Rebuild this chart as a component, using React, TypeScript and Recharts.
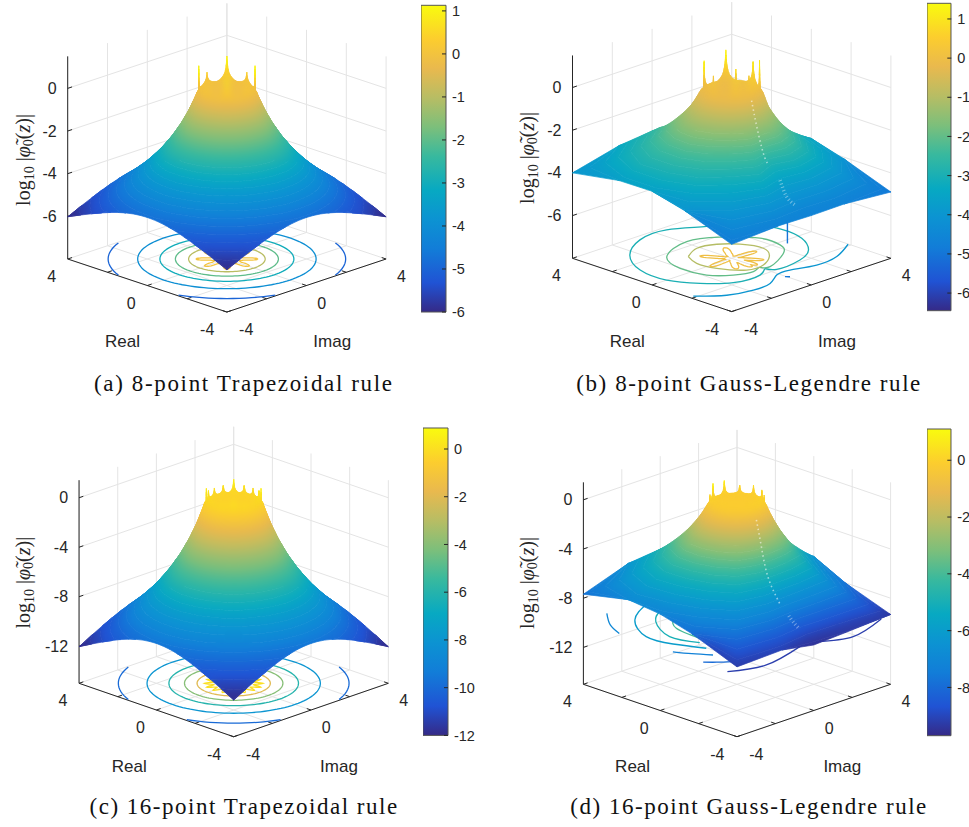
import { ScatterChart, Scatter, XAxis, YAxis, BarChart, Bar } from "recharts";

// ─── Colour map ───
const PARULA = ["#352a87", "#2053d4", "#127dd8", "#0c93d2", "#07a9c2", "#38b99e", "#7cbf7b", "#b7bd64", "#e9b94e", "#fccd2e", "#f9fb0e"];
const PARULA_POS = [0, 0.095, 0.206, 0.302, 0.397, 0.508, 0.603, 0.698, 0.794, 0.889, 1];

// ─── Surface data: radius of each height level, per direction ───
const levelsA = [-0.25, -0.5, -0.75, -1, -1.25, -1.5, -1.75, -2, -2.25, -2.5, -2.75, -3, -3.25, -3.5, -3.75, -4, -4.25, -4.5, -4.75, -5, -5.25, -5.5, -5.75, -6, -6.25];
const radiiA = [[1.07, 1.15, 1.24, 1.33, 1.43, 1.54, 1.65, 1.78, 1.91, 2.05, 2.21, 2.37, 2.55, 2.74, 2.94, 3.16, 3.4, 3.65, 3.93, 4.22, 4.53, 4.87, 5.24, 5.62, 6.05]];

const levelsC = [-0.5, -1, -1.5, -2, -2.5, -3, -3.5, -4, -4.5, -5, -5.5, -6, -6.5, -7, -7.5, -8, -8.5, -9, -9.5, -10, -10.5, -11, -11.5, -12, -12.5];
const radiiC = [[1.07, 1.15, 1.24, 1.33, 1.43, 1.54, 1.65, 1.78, 1.91, 2.05, 2.21, 2.37, 2.55, 2.74, 2.94, 3.16, 3.4, 3.65, 3.93, 4.22, 4.53, 4.87, 5.24, 5.62, 6.05]];

const levelsB = [-0.25, -0.5, -0.75, -1, -1.25, -1.5, -1.75, -2, -2.25, -2.5, -2.75, -3, -3.25, -3.5, -3.75, -4, -4.25, -4.5, -4.75, -5];
// one row per direction, 0 deg to 337.5 deg in steps of 22.5 deg
const radiiB = [
  [1.14, 1.23, 1.34, 1.45, 1.61, 1.79, 1.98, 2.2, 2.49, 2.81, 3.18, 3.6, 3.95, 4.33],
  [1.13, 1.22, 1.32, 1.42, 1.57, 1.75, 1.94, 2.15, 2.4, 2.68, 3.0, 3.35, 3.68, 4.05, 4.46],
  [1.13, 1.21, 1.3, 1.4, 1.54, 1.69, 1.86, 2.05, 2.27, 2.52, 2.8, 3.1, 3.42, 3.78, 4.17, 4.6, 5.0, 5.43, 5.89],
  [1.13, 1.21, 1.3, 1.4, 1.54, 1.69, 1.86, 2.05, 2.29, 2.56, 2.86, 3.2, 3.5, 3.84, 4.2, 4.6],
  [1.12, 1.19, 1.28, 1.36, 1.49, 1.63, 1.78, 1.95, 2.17, 2.42, 2.69, 3.0, 3.36, 3.76, 4.2],
  [1.12, 1.19, 1.27, 1.35, 1.47, 1.6, 1.74, 1.9, 2.1, 2.33, 2.58, 2.85, 3.14, 3.46, 3.81, 4.2, 4.59],
  [1.12, 1.19, 1.26, 1.34, 1.46, 1.58, 1.72, 1.87, 2.06, 2.26, 2.48, 2.73, 2.98, 3.26, 3.57, 3.9, 4.33, 4.8, 5.32, 5.9],
  [1.11, 1.17, 1.23, 1.3, 1.4, 1.51, 1.62, 1.75, 1.89, 2.05, 2.22, 2.4, 2.6, 2.81, 3.05, 3.3, 3.62, 3.98, 4.37],
  [1.1, 1.15, 1.2, 1.25, 1.33, 1.42, 1.5, 1.6, 1.69, 1.79, 1.89, 2.0, 2.21, 2.45, 2.71, 3.0, 3.3, 3.63, 4.0, 4.4],
  [1.11, 1.17, 1.23, 1.3, 1.4, 1.51, 1.62, 1.75, 1.93, 2.13, 2.36, 2.6, 2.8, 3.02, 3.25, 3.5, 3.77, 4.06, 4.37],
  [1.11, 1.18, 1.25, 1.32, 1.42, 1.53, 1.65, 1.78, 1.97, 2.18, 2.41, 2.67, 2.95, 3.27, 3.62, 4.0, 4.43, 4.9, 5.42, 6.0],
  [1.12, 1.19, 1.28, 1.36, 1.48, 1.61, 1.75, 1.9, 2.13, 2.39, 2.68, 3.0, 3.28, 3.59, 3.93, 4.3, 4.77],
  [1.13, 1.22, 1.32, 1.42, 1.57, 1.73, 1.9, 2.1, 2.33, 2.59, 2.88, 3.2, 3.5, 3.84, 4.2],
  [1.15, 1.25, 1.37, 1.5, 1.65, 1.82, 2.0, 2.2, 2.47, 2.77, 3.12, 3.5, 3.81, 4.14, 4.51],
  [1.16, 1.27, 1.4, 1.54, 1.71, 1.9, 2.11, 2.34, 2.61, 2.9, 3.23, 3.6, 4.03, 4.51, 5.05, 5.66, 6.3],
  [1.15, 1.25, 1.37, 1.5, 1.67, 1.86, 2.07, 2.3, 2.57, 2.88, 3.22, 3.6, 3.99, 4.41],
];

const levelsD = [-0.5, -1, -1.5, -2, -2.5, -3, -3.5, -4, -4.5, -5, -5.5, -6, -6.5, -7, -7.5, -8, -8.5, -9, -9.5, -10];
const radiiD = [
  [1.12, 1.25, 1.4, 1.57, 1.76, 1.97, 2.2, 2.47, 2.76, 3.09, 3.46, 3.87, 4.34],
  [1.12, 1.25, 1.4, 1.56, 1.75, 1.96, 2.19, 2.45, 2.74, 3.06, 3.42, 3.83, 4.28, 4.79],
  [1.12, 1.25, 1.39, 1.55, 1.73, 1.93, 2.15, 2.4, 2.68, 2.99, 3.34, 3.73, 4.16, 4.64, 5.18, 5.78],
  [1.11, 1.24, 1.38, 1.53, 1.7, 1.9, 2.11, 2.35, 2.61, 2.9, 3.23, 3.59, 4.0, 4.44],
  [1.11, 1.23, 1.36, 1.51, 1.67, 1.85, 2.05, 2.28, 2.52, 2.79, 3.1, 3.43, 3.8, 4.22],
  [1.1, 1.2, 1.32, 1.44, 1.58, 1.73, 1.9, 2.08, 2.28, 2.5, 2.73, 2.99, 3.28, 3.59, 3.94, 4.31, 4.73],
  [1.1, 1.2, 1.32, 1.45, 1.59, 1.75, 1.92, 2.1, 2.31, 2.53, 2.78, 3.05, 3.35, 3.67, 4.03, 4.42, 4.85, 5.32, 5.84],
  [1.08, 1.17, 1.26, 1.36, 1.47, 1.58, 1.71, 1.85, 2.0, 2.15, 2.33, 2.51, 2.71, 2.93, 3.16, 3.41, 3.69, 3.98, 4.3, 4.64],
  [1.07, 1.15, 1.24, 1.33, 1.43, 1.54, 1.65, 1.77, 1.91, 2.05, 2.2, 2.36, 2.54, 2.73, 2.93, 3.15, 3.38, 3.63, 3.9, 4.19],
  [1.08, 1.17, 1.27, 1.38, 1.49, 1.61, 1.75, 1.89, 2.05, 2.22, 2.4, 2.6, 2.82, 3.05, 3.3, 3.58, 3.87, 4.19, 4.54],
  [1.1, 1.2, 1.32, 1.45, 1.59, 1.75, 1.92, 2.1, 2.31, 2.53, 2.78, 3.05, 3.35, 3.67, 4.03, 4.42, 4.85, 5.32, 5.84],
  [1.1, 1.2, 1.32, 1.45, 1.59, 1.75, 1.92, 2.1, 2.31, 2.53, 2.78, 3.05, 3.35, 3.67, 4.03, 4.42],
  [1.1, 1.21, 1.34, 1.47, 1.62, 1.79, 1.97, 2.17, 2.39, 2.63, 2.9, 3.19, 3.52, 3.87, 4.27],
  [1.11, 1.24, 1.38, 1.53, 1.7, 1.9, 2.11, 2.35, 2.61, 2.9, 3.23, 3.59, 4.0, 4.44],
  [1.12, 1.25, 1.4, 1.57, 1.76, 1.97, 2.2, 2.47, 2.76, 3.09, 3.46, 3.87, 4.34, 4.85, 5.43, 6.08],
  [1.12, 1.26, 1.41, 1.58, 1.77, 1.98, 2.22, 2.49, 2.79, 3.13, 3.51, 3.93, 4.41],
];

// ─── Poles on the unit circle: angle and spike height ───
const polesA = [0, 45, 90, 135, 180, 225, 270, 315];
const tipsA = [0.45, 1.07, 0.45, 1.06, 0.45, 1.0, 0.45, 1.06];
const polesB = [33, 94.5, 143.5, 172.8, 187.2, 216.5, 265.5, 327];
const tipsB = [1.33, 0.93, 1.36, 0.9, 0.9, 1.3, 0.88, 1.16];
const polesC = [0, 22.5, 45, 67.5, 90, 112.5, 135, 157.5, 180, 202.5, 225, 247.5, 270, 292.5, 315, 337.5];
const tipsC = [0.25, 0.3, 0.73, 0.3, 0.25, 0.3, 0.76, 0.3, 0.25, 0.3, 0.6, 0.3, 0.25, 0.3, 0.76, 0.3];
const polesD = [17.1, 50.7, 82.4, 111.2, 136, 155.8, 170, 178.1, 181.9, 190, 204.2, 224, 248.8, 277.6, 309.3, 342.9];
const tipsD = [0.9, 0.45, 0.6, 0.5, 0.4, 0.3, 0.3, 0.3, 0.3, 0.3, 0.3, 0.3, 0.4, 0.4, 0.5, 0.98];
const spikeOffset = [0, 1.5, 4, 8, 14, 22];
const spikeRise = [1, 0.6, 0.36, 0.2, 0.08, 0];

// ─── Floor contours ───
const ringLevelsA = [-5, -4, -3, -2, -1];
const ringRadiiA = [4.22, 3.17, 2.38, 1.83, 1.36];
const ringLevelsC = [-10, -8, -6, -4, -2];
const ringRadiiC = [4.22, 3.17, 2.37, 1.8, 1.34];
const petalOffsetA = [0, 3, 7, 12, 22.5];
const petalRadiusA = [1.09, 1.07, 0.95, 0.6, 0.45];
const petalRadiusB = [1.15, 1.12, 0.95, 0.55, 0.25];
const petalOffsetC = [0, 2, 5, 8, 11.25];
const petalRadiusC = [1.07, 1.03, 0.9, 0.78, 0.72];

const contoursB = [
  { level: -3, closed: true, re: [1.51, 2.55, 3.02, 3.77, 3.69, 2.81, 1.42, 0, -1.09, -1.87, -1.97, -1.62, -1.96, -1.84, -1.3, -0.25, 0.84], im: [3.27, 2.63, 1.76, 0.5, -0.92, -2.31, -3.18, -3.27, -2.68, -1.79, -0.55, 0.05, 0.3, 1.59, 2.56, 3.27, 3.44] },
  { level: -2, closed: true, re: [1.88, 2.39, 1.76, 0.54, -0.63, -1.3, -1.55, -1.38, -1.59, -0.92, -0.21, 0.8], im: [1.29, 0.13, -1.5, -2.05, -1.89, -1.22, -0.46, 0.02, 0.34, 1.68, 2.22, 2.22] },
  { level: -1, closed: true, re: [1.22, 1.63, 1.43, 0.85, -0.04, -0.82, -1.3, -1.26, -0.38, 0.5], im: [-0.96, -0.12, 0.68, 1.27, 1.55, 1.07, 0.29, -0.51, -1.13, -1.26] },
  { level: -4, closed: false, re: [-1.88, -2.65, -2.94, -2.85, -2.39, -2.35, -2.64, -2.51, -1.87], im: [-3.81, -2.9, -1.85, -0.92, -0.13, 0.58, 1.63, 2.77, 3.98] },
  { level: -5, closed: false, re: [-2.72, -2.85], im: [-0.04, 0.08] },
];
const contoursD = [
  { level: -7, closed: false, re: [3.9, 2.92, 2.03], im: [-2.88, -3.68, -4.1] },
  { level: -6, closed: false, re: [3.56, 2.66, 1.09, -0.17, -1.36], im: [-1.16, -2.66, -3.64, -3.5, -2.96] },
  { level: -5, closed: false, re: [2.65, 1.99, 0.48, -0.76], im: [-1.38, -2.24, -3.03, -2.7] },
  { level: -4, closed: false, re: [1.79, 0.95, -0.43], im: [-1.54, -2.21, -2.37] },
  { level: -7.3, closed: false, re: [-0.76, -1.4, -2.05], im: [-4.1, -3.75, -3.3] },
  { level: -8, closed: false, re: [-2.34, -2.7, -3.07], im: [-4.1, -3.75, -3.28] },
  { level: -9.2, closed: false, re: [-3.7, -4.2, -3.67], im: [-4.2, -2.67, -0.4] },
  { level: -9.2, closed: false, re: [-3.72, -4.3, -3.68], im: [0.41, 1.75, 3.83] },
];

// ─── Crack in the Gauss-Legendre surfaces, an upper thin part and a lower wide part ───
const crackUpperReB = [-1.0, -1.26, -1.59, -1.81];
const crackUpperZB = [-0.3, -1.44, -2.59, -3.0];
const crackLowerReB = [-2.43, -2.76, -3.18];
const crackLowerZB = [-3.58, -4.25, -4.51];
const crackUpperReD = [-1.01, -1.27, -1.61, -2.22];
const crackUpperZD = [-1.1, -3.14, -5.4, -7.24];
const crackLowerReD = [-2.7, -2.92, -3.26];
const crackLowerZD = [-8.0, -8.36, -8.79];
const zeroSpikeB = [-5.46, -6.43];

// ─── Axis ticks ───
const planTicks = [-4, -2, 0, 2, 4];
const labelledPlanTicks = [-4, 0, 4];
const zTicksAB = [0, -2, -4, -6];
const zTicksCD = [0, -4, -8, -12];
const barTicksA = [1, 0, -1, -2, -3, -4, -5, -6];
const barTicksB = [1, 0, -1, -2, -3, -4, -5, -6];
const barTicksC = [0, -2, -4, -6, -8, -10, -12];
const barTicksD = [0, -2, -4, -6, -8];

const panels = [
  {
    id: "a", caption: "(a) 8-point Trapezoidal rule", captionX: 243, captionY: 391, captionW: 298, blur: 3, spikeScale: 1,
    cx: 226.9, fy: 259, kx: 19.9, ky: 6.63, kz: 21.33, zFloor: -8, zTop: 1.5, zPlane: -8, zTicks: zTicksAB,
    levels: levelsA, radii: radiiA, dirs: 72, rimZ: -0.1, rimLevels: [0.1, 0.3, 0.5, 0.7, 0.9, 1.1], poles: polesA, tips: tipsA,
    cmin: -6, cmax: 1.13, barX: 421, barW: 25, barTop: 5.3, barBottom: 312, barTicks: barTicksA, labelX: 24, labelY: 160,
    crackUpper: null, crackLower: null,
  },
  {
    id: "b", caption: "(b) 8-point Gauss-Legendre rule", captionX: 748.3, captionY: 391, captionW: 344, blur: 4.5, spikeScale: 0.9,
    cx: 731.7, fy: 258.3, kx: 19.9, ky: 6.66, kz: 21.35, zFloor: -8, zTop: 1.5, zPlane: -8, zTicks: zTicksAB,
    levels: levelsB, radii: radiiB, dirs: 16, rimZ: -0.1, rimLevels: [0.1, 0.3, 0.5, 0.7, 0.9, 1.1, 1.35], poles: polesB, tips: tipsB,
    cmin: -6.45, cmax: 1.4, barX: 926.7, barW: 24.3, barTop: 3.3, barBottom: 310.7, barTicks: barTicksB, labelX: 528.3, labelY: 158,
    crackUpper: [crackUpperReB, crackUpperZB], crackLower: [crackLowerReB, crackLowerZB],
  },
  {
    id: "c", caption: "(c) 16-point Trapezoidal rule", captionX: 243.3, captionY: 814, captionW: 307.7, blur: 3, spikeScale: 0.55,
    cx: 233.7, fy: 683.3, kx: 19.33, ky: 6.68, kz: 12.37, zFloor: -15, zTop: 1.42, zPlane: -15, zTicks: zTicksCD,
    levels: levelsC, radii: radiiC, dirs: 72, rimZ: -0.35, rimLevels: [-0.15, 0.05, 0.25, 0.45, 0.76], poles: polesC, tips: tipsC,
    cmin: -12, cmax: 0.88, barX: 423.3, barW: 25, barTop: 428.3, barBottom: 735.7, barTicks: barTicksC, labelX: 24.3, labelY: 582.7,
    crackUpper: null, crackLower: null,
  },
  {
    id: "d", caption: "(d) 16-point Gauss-Legendre rule", captionX: 748.3, captionY: 814, captionW: 356, blur: 4.5, spikeScale: 0.5,
    cx: 737, fy: 684.3, kx: 19.2, ky: 6.55, kz: 12.3, zFloor: -15, zTop: 1.42, zPlane: -9.77, zTicks: zTicksCD,
    levels: levelsD, radii: radiiD, dirs: 16, rimZ: -0.2, rimLevels: [0, 0.2, 0.4, 0.6, 0.8, 0.98], poles: polesD, tips: tipsD,
    cmin: -9.7, cmax: 1.1, barX: 926.7, barW: 24.3, barTop: 429.3, barBottom: 736, barTicks: barTicksD, labelX: 528.3, labelY: 583,
    crackUpper: [crackUpperReD, crackUpperZD], crackLower: [crackLowerReD, crackLowerZD],
  },
];

const INK = "#262626";
const SANS = "'Liberation Sans', Arial, sans-serif";
const SERIF = "'Liberation Serif', serif";
const NO_MARGIN = { top: 0, right: 0, bottom: 0, left: 0 };
const LAYER = { position: "absolute", left: 0, top: 0 } as const;

function hex(c: string) {
  return [1, 3, 5].map((i) => parseInt(c.slice(i, i + 2), 16));
}

function parula(t: number) {
  const v = Math.min(1, Math.max(0, t));
  let i = 0;
  while (i < PARULA_POS.length - 2 && v > PARULA_POS[i + 1]) i++;
  const f = (v - PARULA_POS[i]) / (PARULA_POS[i + 1] - PARULA_POS[i]);
  const a = hex(PARULA[i]);
  const b = hex(PARULA[i + 1]);
  return `rgb(${a.map((x, k) => Math.round(x + (b[k] - x) * f)).join(",")})`;
}

function lookup(xs: number[], ys: number[], x: number) {
  if (x >= xs[xs.length - 1]) return ys[ys.length - 1];
  let i = 0;
  while (x > xs[i + 1]) i++;
  return ys[i] + ((ys[i + 1] - ys[i]) * (x - xs[i])) / (xs[i + 1] - xs[i]);
}

// 3D to page coordinates, the chart's axes then scale these
function project(p: any, re: number, im: number, z: number) {
  return {
    x: p.cx + (im - re) * p.kx,
    y: p.fy - (re + im) * p.ky - (z - p.zFloor) * p.kz,
  };
}

function squareRho(deg: number) {
  const t = (deg * Math.PI) / 180;
  return 4 / Math.max(Math.abs(Math.cos(t)), Math.abs(Math.sin(t)));
}

function boundaryZ(row: number[], levels: number[], rho: number) {
  let k = 0;
  while (k < row.length - 2 && row[k + 1] < rho) k++;
  const f = (rho - row[k]) / (row[k + 1] - row[k]);
  return levels[k] + (levels[k + 1] - levels[k]) * f;
}

// one closed height level on the surface, cut off at the square edge
function levelLoop(p: any, i: number) {
  const pts = [];
  for (let j = 0; j < p.dirs; j++) {
    const deg = (j * 360) / p.dirs;
    const row = p.radii.length === 1 ? p.radii[0] : p.radii[j];
    const rho = squareRho(deg);
    let r = i < row.length ? row[i] : rho + 1;
    let z = i < 0 ? p.rimZ : p.levels[Math.min(i, p.levels.length - 1)];
    if (i < 0) r = 1;
    if (r > rho) {
      r = rho;
      z = boundaryZ(row, p.levels, rho);
    }
    const t = (deg * Math.PI) / 180;
    pts.push(project(p, r * Math.cos(t), r * Math.sin(t), z));
  }
  return pts;
}

function rimAngles(p: any) {
  const out = [...p.poles];
  for (let d = 0; d < 360; d += 1.5) out.push(d);
  return out.sort((a, b) => a - b);
}

function rimHeight(p: any, deg: number) {
  let best = p.rimZ;
  p.poles.forEach((pole: number, k: number) => {
    const gap = Math.abs(((deg - pole + 540) % 360) - 180) / p.spikeScale;
    if (gap < 22) best = Math.max(best, p.rimZ + (p.tips[k] - p.rimZ) * lookup(spikeOffset, spikeRise, gap));
  });
  return best;
}

function rimLoop(p: any, cap: number) {
  return rimAngles(p).map((deg) => {
    const t = (deg * Math.PI) / 180;
    return project(p, Math.cos(t), Math.sin(t), Math.min(rimHeight(p, deg), cap));
  });
}

function surfaceBands(p: any) {
  const bands = [];
  const step = p.levels[0] - p.levels[1];
  const n = p.levels.length;
  for (let i = n; i >= 0; i--) {
    const outerZ = i < n ? p.levels[i] : p.levels[n - 1] - step;
    const innerZ = i > 0 ? p.levels[i - 1] : p.rimZ;
    bands.push({ z: (outerZ + innerZ) / 2, points: [...levelLoop(p, i), ...levelLoop(p, i - 1)] });
  }
  const angles = rimAngles(p);
  const centre = project(p, 0, 0, p.rimZ);
  bands.push({ z: p.rimZ, points: [...rimLoop(p, p.rimZ), ...angles.map(() => centre)] });
  let prev = p.rimZ;
  p.rimLevels.forEach((cap: number) => {
    bands.push({ z: (cap + prev) / 2, points: [...rimLoop(p, cap), ...rimLoop(p, prev)] });
    prev = cap;
  });
  return bands;
}

// draws a band from the scaled points, each quad wound the same way so folds stay filled
function quadStrip(color: string) {
  return (props: any) => {
    const pts = props.points;
    const n = pts.length / 2;
    let d = "";
    for (let i = 0; i < n; i++) {
      const a = pts[i];
      const b = pts[(i + 1) % n];
      const c = pts[n + ((i + 1) % n)];
      const e = pts[n + i];
      const area = (c.x - a.x) * (e.y - b.y) - (e.x - b.x) * (c.y - a.y);
      if (Math.abs(area) < 0.001) continue;
      const q = area > 0 ? [a, b, c, e] : [e, c, b, a];
      d += `M${q.map((v: any) => `${v.x.toFixed(2)} ${v.y.toFixed(2)}`).join("L")}Z`;
    }
    return <path d={d} fill={color} stroke={color} strokeWidth={0.7} fillRule="nonzero" />;
  };
}

function segments(color: string, width: number) {
  return (props: any) => {
    const pts = props.points;
    let d = "";
    for (let i = 0; i + 1 < pts.length; i += 2) d += `M${pts[i].x} ${pts[i].y}L${pts[i + 1].x} ${pts[i + 1].y}`;
    return <path d={d} fill="none" stroke={color} strokeWidth={width} />;
  };
}

function gridPoints(p: any) {
  const pts: any[] = [];
  const seg = (a: number[], b: number[]) => {
    pts.push(project(p, a[0], a[1], a[2]), project(p, b[0], b[1], b[2]));
  };
  planTicks.forEach((t) => {
    seg([t, -4, p.zFloor], [t, 4, p.zFloor]);
    seg([-4, t, p.zFloor], [4, t, p.zFloor]);
    seg([4, t, p.zFloor], [4, t, p.zTop]);
    seg([t, 4, p.zFloor], [t, 4, p.zTop]);
  });
  p.zTicks.forEach((z: number) => {
    seg([4, -4, z], [4, 4, z]);
    seg([4, 4, z], [-4, 4, z]);
  });
  return pts;
}

function axisPoints(p: any) {
  const pts: any[] = [];
  const seg = (a: number[], b: number[]) => {
    pts.push(project(p, a[0], a[1], a[2]), project(p, b[0], b[1], b[2]));
  };
  seg([4, -4, p.zFloor], [4, -4, p.zTop]);
  seg([4, -4, p.zFloor], [-4, -4, p.zFloor]);
  seg([-4, -4, p.zFloor], [-4, 4, p.zFloor]);
  planTicks.forEach((t) => {
    seg([t, -4, p.zFloor], [t, -3.78, p.zFloor]);
    seg([-4, t, p.zFloor], [-3.78, t, p.zFloor]);
  });
  p.zTicks.forEach((z: number) => seg([4, -4, z], [4, -3.78, z]));
  return pts;
}

function ringRuns(p: any, radius: number) {
  const runs: any[][] = [];
  let run: any[] = [];
  for (let d = 0; d <= 360; d += 3) {
    const t = (d * Math.PI) / 180;
    const re = radius * Math.cos(t);
    const im = radius * Math.sin(t);
    if (Math.abs(re) <= 4 && Math.abs(im) <= 4) run.push(project(p, re, im, p.zPlane));
    else if (run.length) {
      runs.push(run);
      run = [];
    }
  }
  if (run.length) runs.push(run);
  return runs;
}

function flowerPoints(p: any, offsets: number[], radii: number[]) {
  const halfGap = offsets[offsets.length - 1];
  const out = rimAngles(p).map((deg) => {
    let gap = 360;
    p.poles.forEach((pole: number) => {
      gap = Math.min(gap, Math.abs(((deg - pole + 540) % 360) - 180));
    });
    const r = lookup(offsets, radii, Math.min(gap, halfGap));
    const t = (deg * Math.PI) / 180;
    return project(p, r * Math.cos(t), r * Math.sin(t), p.zPlane);
  });
  out.push(out[0]);
  return out;
}

function contourSeries(p: any) {
  const tone = (z: number) => parula((z - p.cmin) / (p.cmax - p.cmin));
  const lines: any[] = [];
  const rings = p.id === "a" ? [ringLevelsA, ringRadiiA] : p.id === "c" ? [ringLevelsC, ringRadiiC] : null;
  if (rings) {
    rings[0].forEach((lv: number, i: number) => {
      ringRuns(p, rings[1][i]).forEach((run) => lines.push({ color: tone(lv), points: run, joint: "linear" }));
    });
  }
  const plan = p.id === "b" ? contoursB : p.id === "d" ? contoursD : [];
  plan.forEach((c: any) => {
    const pts = c.re.map((re: number, i: number) => project(p, re, c.im[i], p.zPlane));
    if (c.closed) pts.push(pts[0]);
    lines.push({ color: tone(c.level), points: pts, joint: "natural" });
  });
  if (p.id === "a") lines.push({ color: tone(0), points: flowerPoints(p, petalOffsetA, petalRadiusA), joint: "linear" });
  if (p.id === "b") lines.push({ color: tone(0), points: flowerPoints(p, petalOffsetA, petalRadiusB), joint: "linear" });
  if (p.id === "c") lines.push({ color: tone(0), points: flowerPoints(p, petalOffsetC, petalRadiusC), joint: "linear" });
  return lines;
}

const noMark = () => null;

function PageAxes() {
  return (
    <>
      <XAxis type="number" dataKey="x" domain={[0, 969]} hide />
      <YAxis type="number" dataKey="y" domain={[0, 827]} reversed hide />
    </>
  );
}

function MathLabel({ x, y }: { x: number; y: number }) {
  return (
    <text x={x} y={y} transform={`rotate(-90 ${x} ${y})`} textAnchor="middle" fontFamily={SERIF} fontSize={20} fill={INK}>
      log
      <tspan dy={4} fontSize={14}>10</tspan>
      <tspan dy={-4} dx={5}>|</tspan>
      <tspan fontStyle="italic">φ̃</tspan>
      <tspan dy={3} fontSize={14}>0</tspan>
      <tspan dy={-3}>(</tspan>
      <tspan fontStyle="italic">z</tspan>
      )|
    </text>
  );
}

function crackPoints(p: any, crack: number[][]) {
  return crack[0].map((re, i) => project(p, re, 0, crack[1][i]));
}

function Surface({ p }: { p: any }) {
  const bands = surfaceBands(p);
  const tone = (z: number) => parula((z - p.cmin) / (p.cmax - p.cmin));
  const leftX = p.cx - 8 * p.kx;
  const frontY = p.fy + 8 * p.ky;
  const tickText = { fontFamily: SANS, fontSize: 16, fill: INK };
  return (
    <>
      {/* box, grid and floor contours */}
      <div style={LAYER}>
        <ScatterChart width={969} height={827} margin={NO_MARGIN}>
          {PageAxes().props.children}
          <Scatter data={gridPoints(p)} shape={noMark} line={segments("#e4e4e4", 1)} isAnimationActive={false} />
          <Scatter data={axisPoints(p)} shape={noMark} line={segments(INK, 1)} isAnimationActive={false} />
          {contourSeries(p).map((c, i) => (
            <Scatter key={i} data={c.points} shape={noMark} line={{ stroke: c.color, strokeWidth: 1.3, fill: "none" }} lineJointType={c.joint} isAnimationActive={false} />
          ))}
        </ScatterChart>
      </div>
      {/* surface, on its own layer so the smoothing filter covers only this */}
      <div style={{ ...LAYER, filter: `url(#smooth-${p.id})` }}>
        <ScatterChart width={969} height={827} margin={NO_MARGIN}>
          {PageAxes().props.children}
          {bands.map((b, i) => (
            <Scatter key={i} data={b.points} shape={noMark} line={quadStrip(tone(b.z))} isAnimationActive={false} />
          ))}
        </ScatterChart>
      </div>
      {/* marks on top of the surface and all text */}
      <div style={LAYER}>
        <ScatterChart width={969} height={827} margin={NO_MARGIN}>
          {PageAxes().props.children}
          {p.crackUpper && (
            <Scatter data={crackPoints(p, p.crackUpper)} shape={noMark} line={{ stroke: "#ffffff", strokeOpacity: 0.55, strokeWidth: 1.6, strokeDasharray: "1.5 3", fill: "none" }} lineJointType="natural" isAnimationActive={false} />
          )}
          {p.crackLower && (
            <Scatter data={crackPoints(p, p.crackLower)} shape={noMark} line={{ stroke: "#ffffff", strokeOpacity: 0.4, strokeWidth: 3.5, strokeDasharray: "1 2.5", fill: "none" }} lineJointType="natural" isAnimationActive={false} />
          )}
          {p.id === "b" && (
            <Scatter data={zeroSpikeB.map((z) => project(p, -2.8, 0, z))} shape={noMark} line={{ stroke: tone(-5), strokeWidth: 1.4 }} isAnimationActive={false} />
          )}
          {p.zTicks.map((z: number) => (
            <text key={z} x={leftX - 11} y={p.fy - (z - p.zFloor) * p.kz + 5.5} textAnchor="end" {...tickText}>{z}</text>
          ))}
          {labelledPlanTicks.map((t) => (
            <text key={`r${t}`} x={p.cx + (-4 - t) * p.kx + (t === -4 ? -19.7 : -16)} y={frontY - (t + 4) * p.ky + 23} textAnchor="middle" {...tickText}>{t}</text>
          ))}
          {labelledPlanTicks.map((t) => (
            <text key={`i${t}`} x={p.cx + (t + 4) * p.kx + (t === -4 ? 19.3 : 15.3)} y={frontY - (t + 4) * p.ky + 23} textAnchor="middle" {...tickText}>{t}</text>
          ))}
          <text x={p.cx - 104.4} y={frontY + 35} textAnchor="middle" fontFamily={SANS} fontSize={17} fill={INK}>Real</text>
          <text x={p.cx + 105.3} y={frontY + 35} textAnchor="middle" fontFamily={SANS} fontSize={17} fill={INK}>Imag</text>
          <MathLabel x={p.labelX + 6} y={p.labelY} />
          <text x={p.captionX} y={p.captionY} textAnchor="middle" fontFamily={SERIF} fontSize={23} fill="#111111" textLength={p.captionW} lengthAdjust="spacing">{p.caption}</text>
        </ScatterChart>
      </div>
    </>
  );
}

function Colorbar({ p }: { p: any }) {
  const gradientId = `parula-${p.id}`;
  const pad = Math.min(10, p.barTop);
  return (
    <div style={{ position: "absolute", left: p.barX, top: p.barTop - pad }}>
      <BarChart
        width={p.barW + 36}
        height={p.barBottom - p.barTop + pad + 10}
        data={[{ name: "scale", range: [p.cmin, p.cmax] }]}
        margin={{ top: pad, right: 0, bottom: 10, left: 0 }}
        barCategoryGap={0}
      >
        <defs>
          <linearGradient id={gradientId} x1="0" y1="1" x2="0" y2="0">
            {PARULA.map((c, i) => (
              <stop key={c} offset={PARULA_POS[i]} stopColor={c} />
            ))}
          </linearGradient>
        </defs>
        <XAxis dataKey="name" hide />
        <YAxis
          orientation="right"
          width={36}
          type="number"
          domain={[p.cmin, p.cmax]}
          ticks={p.barTicks}
          interval={0}
          axisLine={false}
          tickSize={-4}
          tickMargin={10}
          tickLine={{ stroke: INK }}
          tick={{ fill: INK, fontSize: 14.5, fontFamily: SANS }}
        />
        <Bar dataKey="range" fill={`url(#${gradientId})`} stroke="#555555" strokeWidth={1} isAnimationActive={false} />
      </BarChart>
    </div>
  );
}

export default function App() {
  return (
    <div style={{ position: "absolute", left: 0, top: 0, width: 969, height: 827, overflow: "hidden", background: "#ffffff" }}>
      {/* evens out the height bands while keeping the surface's edge sharp */}
      <svg width={0} height={0} style={{ position: "absolute" }}>
        <defs>
          {panels.map((p) => (
            <filter key={p.id} id={`smooth-${p.id}`} x="0" y="0" width="100%" height="100%" colorInterpolationFilters="sRGB">
              <feGaussianBlur in="SourceGraphic" stdDeviation={p.blur} result="soft" />
              <feComponentTransfer in="soft" result="solid">
                <feFuncA type="linear" slope="60" />
              </feComponentTransfer>
              <feComposite in="solid" in2="SourceAlpha" operator="in" />
            </filter>
          ))}
        </defs>
      </svg>
      {panels.map((p) => (
        <Surface key={p.id} p={p} />
      ))}
      {panels.map((p) => (
        <Colorbar key={p.id} p={p} />
      ))}
    </div>
  );
}
